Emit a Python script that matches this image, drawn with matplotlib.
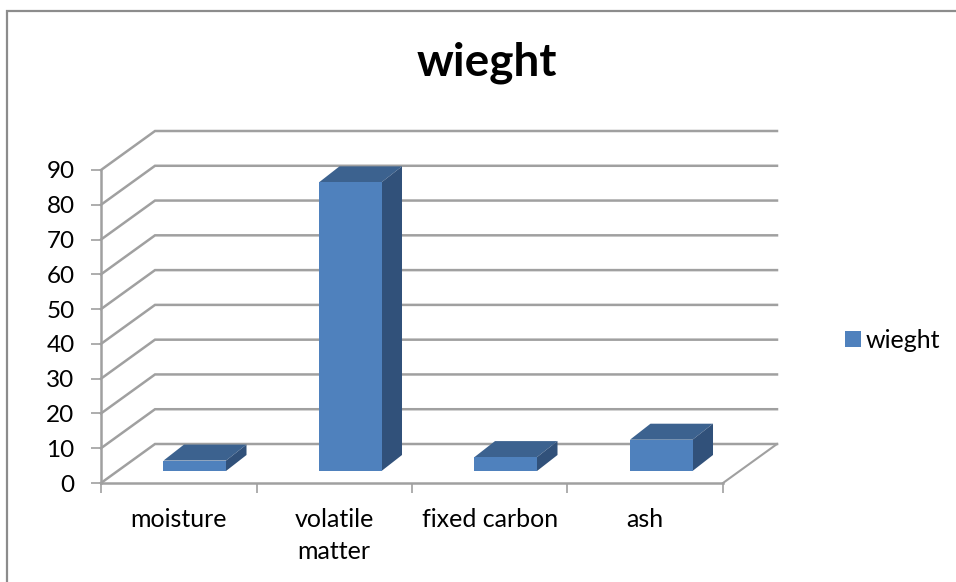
import matplotlib
matplotlib.use('Agg')
import matplotlib.pyplot as plt
from matplotlib.lines import Line2D

categories = ['moisture', 'volatile\nmatter', 'fixed carbon', 'ash']
weights = [3, 83, 4, 9]
y_ticks = [0, 10, 20, 30, 40, 50, 60, 70, 80, 90]

W, H = 956, 582
FRONT = '#4f81bd'
TOP = '#3c628f'
SIDE = '#31517a'
GRID = '#a0a0a0'
TEXT = '#000000'

plt.rcParams['font.family'] = ['Lato', 'DejaVu Sans']

fig = plt.figure(figsize=(W / 100, H / 100), dpi=100)
fig.patch.set_facecolor('white')

# chart frame, only top and left are inside the crop
fig.add_artist(Line2D([7 / W, 7 / W, 1], [0, 1 - 11 / H, 1 - 11 / H], transform=fig.transFigure,
                      color='#8c8c8c', linewidth=1.6, solid_joinstyle='miter'))

# axes = front plane of the 3d box
ax = fig.add_axes([101 / W, 1 - 483 / H, 622 / W, 313 / H])
ax.set_xlim(0, 4)
ax.set_ylim(0, 90)
ax.patch.set_visible(False)

# depth of the box in data units
px_x = 4 / 622
px_y = 90 / 313
box_dx = 54 * px_x
box_dy = 39 * px_y

# gridlines: floor edge going back, then along the back wall
for v in y_ticks:
    ax.plot([0, box_dx, 4 + box_dx], [v, v + box_dy, v + box_dy], color=GRID, lw=1.8, zorder=1,
            clip_on=False, solid_joinstyle='miter')
# right floor edge
ax.plot([4, 4 + box_dx], [0, box_dy], color=GRID, lw=1.5, zorder=1, clip_on=False)

# bars sit in the middle of the floor depth
bar_w = 0.402
off_x = 16 * px_x
off_y = 12 * px_y
dep_x = 20.5 * px_x
dep_y = 16 * px_y

for i, v in enumerate(weights):
    x0 = i + 0.5 - bar_w / 2 + off_x
    x1 = x0 + bar_w
    y0 = off_y
    y1 = off_y + v
    ax.fill([x0, x1, x1 + dep_x, x0 + dep_x], [y1, y1, y1 + dep_y, y1 + dep_y],
            color=TOP, lw=0, zorder=3, clip_on=False)
    ax.fill([x1, x1 + dep_x, x1 + dep_x, x1], [y0, y0 + dep_y, y1 + dep_y, y1],
            color=SIDE, lw=0, zorder=3, clip_on=False)

ax.bar([i + 0.5 + off_x for i in range(len(weights))], weights, bar_w, bottom=off_y,
       color=FRONT, zorder=4, clip_on=False, label='wieght')

for s in ['top', 'right']:
    ax.spines[s].set_visible(False)
for s in ['left', 'bottom']:
    ax.spines[s].set_color(GRID)
    ax.spines[s].set_linewidth(1.8)
    ax.spines[s].set_zorder(2)

ax.set_yticks(y_ticks)
ax.set_xticks(range(5))
ax.set_xticklabels([])
ax.set_xticks([i + 0.5 for i in range(4)], minor=True)
ax.set_xticklabels(categories, minor=True, fontsize=18, color=TEXT, linespacing=1.45)
ax.tick_params(axis='x', which='major', length=7, width=1.2, color=GRID)
ax.tick_params(axis='x', which='minor', length=0, pad=18)
ax.tick_params(axis='y', length=7, width=1.2, color=GRID, labelsize=17.5, labelcolor=TEXT, pad=12)

fig.text(487 / W, 1 - 63 / H, 'wieght', ha='center', va='center', fontsize=33, fontweight='bold', color=TEXT)

ax.legend(loc='center left', bbox_to_anchor=(845 / W, 1 - 340 / H), bbox_transform=fig.transFigure,
          frameon=False, fontsize=18, handlelength=0.62, handleheight=0.62, handletextpad=0.2,
          borderpad=0, borderaxespad=0)

fig.savefig('out.png', dpi=100)
